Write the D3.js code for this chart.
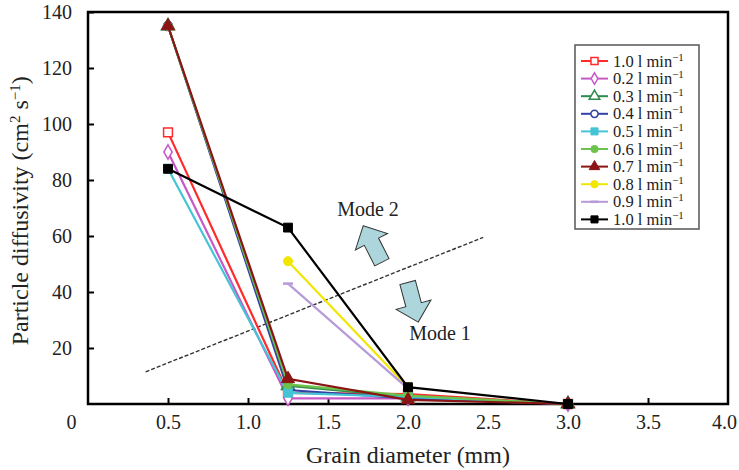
<!DOCTYPE html>
<html>
<head>
<meta charset="utf-8">
<script src="https://cdn.jsdelivr.net/npm/d3@7"></script>
<style>
  body { margin: 0; background: #fff; }
  svg { display: block; font-family: "Liberation Serif", "Times New Roman", serif; }
</style>
</head>
<body>
<svg id="chart" width="739" height="470"></svg>
<script>
// grain diameters (mm) shared by every series
const grain = [0.5, 1.25, 2.0, 3.0];

// particle diffusivity (cm2 s-1) per flow rate
const q10a = [97, 4, 3.5, 0];
const q02 = [90, 2, 2, 0];
const q03 = [135, 6.5, 2.5, 0];
const q04 = [135, 5, 2, 0];
const q05 = [84, 4, 2.5, 0];
const q06 = [135, 7, 3, 0];
const q07 = [135, 9, 1.5, 0];
const q08 = [null, 51, 6, null];
const q09 = [null, 43, 5.5, null];
const q10b = [84, 63, 6, 0];

const flowLabels = ['1.0', '0.2', '0.3', '0.4', '0.5', '0.6', '0.7', '0.8', '0.9', '1.0'];
const xTicks = [0, 0.5, 1.0, 1.5, 2.0, 2.5, 3.0, 3.5, 4.0];
const yTicks = [20, 40, 60, 80, 100, 120, 140];

// dashed mode boundary, in data units
const boundary = [[0.36, 11.5], [2.47, 59.5]];
const modeNotes = [
  { text: 'Mode 2', x: 1.75, y: 69.5, ax: 1.78, ay: 57, rot: -27 },
  { text: 'Mode 1', x: 2.2, y: 25.5, ax: 2.03, ay: 36.5, rot: 165 }
];

const series = [
  { values: q10a, color: '#ff2a2a', marker: 'square', open: true },
  { values: q02, color: '#c659c6', marker: 'diamond', open: true },
  { values: q03, color: '#2e8a4e', marker: 'triangle', open: true },
  { values: q04, color: '#3242a8', marker: 'circle', open: true },
  { values: q05, color: '#45c4d6', marker: 'square', open: false },
  { values: q06, color: '#6cc24a', marker: 'circle', open: false },
  { values: q07, color: '#8b1414', marker: 'triangle', open: false },
  { values: q08, color: '#f2e600', marker: 'circle', open: false },
  { values: q09, color: '#b79ad8', marker: 'dash', open: false },
  { values: q10b, color: '#000000', marker: 'square', open: false }
].map((s, i) => ({ ...s, label: flowLabels[i], points: grain.map((g, j) => [g, s.values[j]]) }));

const svg = d3.select('#chart');
const margin = { top: 12, right: 11, bottom: 66, left: 88 };
const width = 739 - margin.left - margin.right;
const height = 470 - margin.top - margin.bottom;

const x = d3.scaleLinear().domain([0, 4]).range([0, width]);
const y = d3.scaleLinear().domain([0, 140]).range([height, 0]);

const g = svg.append('g').attr('transform', `translate(${margin.left},${margin.top})`);

// axes with inward ticks
const xAxis = g.append('g')
  .attr('transform', `translate(0,${height})`)
  .call(d3.axisBottom(x).tickValues(xTicks)
    .tickFormat(d => d === 0 ? '0' : d3.format('.1f')(d))
    .tickSizeInner(-6).tickSizeOuter(0).tickPadding(11));
xAxis.select('.domain').remove();
xAxis.selectAll('text').attr('font-size', 20).attr('fill', '#222')
  .attr('font-family', '"Liberation Serif", serif');
xAxis.selectAll('.tick').filter(d => d === 0).select('text').attr('x', -17);
xAxis.selectAll('.tick').filter(d => d === 4).select('text').attr('x', -4);
xAxis.selectAll('.tick').filter(d => d === 0 || d === 4).select('line').remove();
xAxis.selectAll('line').attr('stroke-width', 2);

const yAxis = g.append('g')
  .call(d3.axisLeft(y).tickValues(yTicks)
    .tickSizeInner(-6).tickSizeOuter(0).tickPadding(16));
yAxis.select('.domain').remove();
yAxis.selectAll('text').attr('font-size', 20).attr('fill', '#222')
  .attr('font-family', '"Liberation Serif", serif');
yAxis.selectAll('line').attr('stroke-width', 2);

// frame
g.append('rect')
  .attr('width', width).attr('height', height)
  .attr('fill', 'none').attr('stroke', '#000').attr('stroke-width', 2.5);

// axis titles
svg.append('text')
  .attr('x', margin.left + x(2)).attr('y', 463)
  .attr('text-anchor', 'middle').attr('font-size', 24).attr('fill', '#222')
  .text('Grain diameter (mm)');

const yTitle = svg.append('text')
  .attr('transform', `translate(28,${margin.top + y(69)}) rotate(-90)`)
  .attr('text-anchor', 'middle').attr('font-size', 24).attr('fill', '#222');
yTitle.append('tspan').text('Particle diffusivity (cm');
yTitle.append('tspan').attr('dy', -8).attr('font-size', 15).text('2');
yTitle.append('tspan').attr('dy', 8).text(' s');
yTitle.append('tspan').attr('dy', -8).attr('font-size', 15).text('\u22121');
yTitle.append('tspan').attr('dy', 8).text(')');

// dashed boundary between modes
g.append('line')
  .attr('x1', x(boundary[0][0])).attr('y1', y(boundary[0][1]))
  .attr('x2', x(boundary[1][0])).attr('y2', y(boundary[1][1]))
  .attr('stroke', '#333').attr('stroke-width', 1.4).attr('stroke-dasharray', '4,2');

// block arrows and mode labels
const arrowPath = 'M0,-21 L18,-3 L8,-3 L8,20 L-8,20 L-8,-3 L-18,-3 Z';
modeNotes.forEach(m => {
  g.append('path')
    .attr('d', arrowPath)
    .attr('transform', `translate(${x(m.ax)},${y(m.ay)}) rotate(${m.rot})`)
    .attr('fill', '#acd6dc').attr('stroke', '#333').attr('stroke-width', 1);
  g.append('text')
    .attr('x', x(m.x)).attr('y', y(m.y))
    .attr('text-anchor', 'middle').attr('dy', '0.35em')
    .attr('font-size', 20).attr('fill', '#222')
    .text(m.text);
});

// series lines
const line = d3.line()
  .defined(d => d[1] != null)
  .x(d => x(d[0])).y(d => y(d[1]));

const symbolType = { square: d3.symbolSquare, diamond: d3.symbolDiamond, triangle: d3.symbolTriangle, circle: d3.symbolCircle };

function drawMarker(sel, s, cx, cy, scale) {
  if (s.marker === 'dash') {
    sel.append('line')
      .attr('x1', cx - 5 * scale).attr('x2', cx + 5 * scale)
      .attr('y1', cy).attr('y2', cy)
      .attr('stroke', s.color).attr('stroke-width', 2.5);
    return;
  }
  const area = { square: 78, diamond: 60, triangle: 75, circle: 64 }[s.marker] * scale * scale;
  sel.append('path')
    .attr('d', d3.symbol().type(symbolType[s.marker]).size(area)())
    .attr('transform', `translate(${cx},${cy})`)
    .attr('fill', s.open ? '#fff' : s.color)
    .attr('stroke', s.color).attr('stroke-width', s.open ? 1.5 : 1);
}

series.forEach(s => {
  const sg = g.append('g');
  sg.append('path')
    .datum(s.points)
    .attr('d', line)
    .attr('fill', 'none').attr('stroke', s.color).attr('stroke-width', 2.2);
  s.points.filter(p => p[1] != null).forEach(p => drawMarker(sg, s, x(p[0]), y(p[1]), 1));
});

// legend
const legend = svg.append('g').attr('transform', 'translate(575,45)');
legend.append('rect')
  .attr('width', 124).attr('height', 184)
  .attr('fill', '#fff').attr('stroke', '#555').attr('stroke-width', 1.5);
series.forEach((s, i) => {
  const ry = 16 + i * 17.6;
  legend.append('line')
    .attr('x1', 6).attr('x2', 33).attr('y1', ry).attr('y2', ry)
    .attr('stroke', s.color).attr('stroke-width', 2);
  drawMarker(legend, s, 19.5, ry, 0.8);
  const t = legend.append('text')
    .attr('x', 38).attr('y', ry + 5.5)
    .attr('font-size', 16.5).attr('fill', '#222');
  t.append('tspan').text(`${s.label} l min`);
  t.append('tspan').attr('dy', -6).attr('font-size', 11).text('\u22121');
});
</script>
</body>
</html>
